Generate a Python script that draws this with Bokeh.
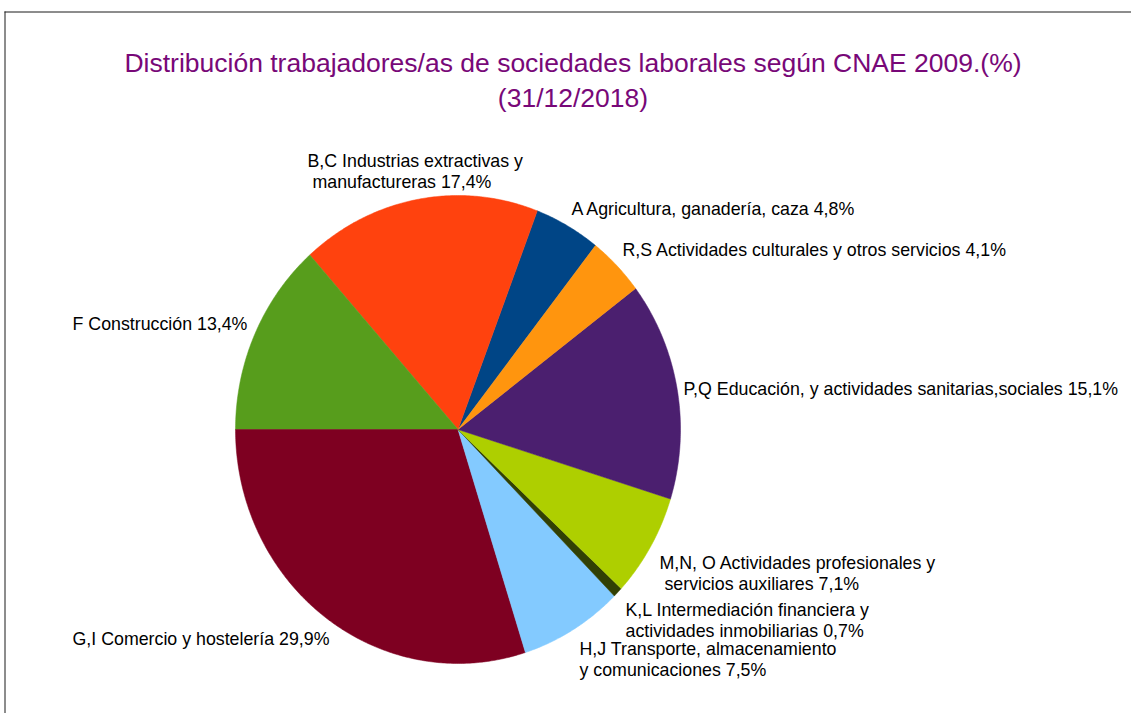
import math
from bokeh.plotting import figure
from bokeh.models import Range1d, ColumnDataSource
from bokeh.core.properties import value
from bokeh.embed import file_html
from bokeh.resources import INLINE

# ---------------- data ----------------
categories = [
    "A Agricultura, ganadería, caza",
    "B,C Industrias extractivas y manufactureras",
    "F Construcción",
    "G,I Comercio y hostelería",
    "H,J Transporte, almacenamiento y comunicaciones",
    "K,L Intermediación financiera y actividades inmobiliarias",
    "M,N, O Actividades profesionales y servicios auxiliares",
    "P,Q Educación, y actividades sanitarias,sociales",
    "R,S Actividades culturales y otros servicios",
]
percentages = [4.8, 17.4, 13.4, 29.9, 7.5, 0.7, 7.1, 15.1, 4.1]
colors = ["#004586", "#ff420e", "#579d1c", "#7e0021", "#83caff",
          "#314004", "#aecf00", "#4b1f6f", "#ff950e"]

# label text lines (as wrapped in the reference)
label_lines = [
    ["A Agricultura, ganadería, caza 4,8%"],
    ["B,C Industrias extractivas y", "\u00a0manufactureras 17,4%"],
    ["F Construcción 13,4%"],
    ["G,I Comercio y hostelería 29,9%"],
    ["H,J Transporte, almacenamiento", "y comunicaciones 7,5%"],
    ["K,L Intermediación financiera y", "actividades inmobiliarias 0,7%"],
    ["M,N, O Actividades profesionales y", "\u00a0servicios auxiliares 7,1%"],
    ["P,Q Educación, y actividades sanitarias,sociales 15,1%"],
    ["R,S Actividades culturales y otros servicios 4,1%"],
]

title_lines = ["Distribución trabajadores/as de sociedades laborales según CNAE 2009.(%)",
               "(31/12/2018)"]

# ---------------- layout (screen pixels) ----------------
W, H = 1131, 713
CX, CY = 457.5, 429.0      # pie centre
RX, RY = 222.5, 234.0      # pie radii
START_DEG = 51.84          # angle where the first slice starts (counter-clockwise)
# left x, y-centre of first line for each label
label_pos = [
    (571, 208), (307, 160), (72, 323), (72, 638), (579, 648),
    (625, 609), (659, 562), (683, 388), (622, 249),
]
LINE_H = 21

p = figure(width=W, height=H, output_backend="svg", toolbar_location=None,
           x_range=Range1d(0, W), y_range=Range1d(H, 0),
           min_border=0, outline_line_color=None)
p.xaxis.visible = False
p.yaxis.visible = False
p.grid.visible = False
p.background_fill_color = "white"
p.border_fill_color = "white"

# pie slices as polygons through the plot scales
total = sum(percentages)
xs, ys = [], []
a = math.radians(START_DEG)
for v in percentages:
    span = 2 * math.pi * v / total
    n = max(4, int(span / math.radians(0.5)))
    px, py = [CX], [CY]
    for i in range(n + 1):
        t = a + span * i / n
        px.append(CX + RX * math.cos(t))
        py.append(CY - RY * math.sin(t))
    xs.append(px)
    ys.append(py)
    a += span

src = ColumnDataSource(dict(xs=xs, ys=ys, color=colors, cat=categories))
p.patches("xs", "ys", source=src, fill_color="color", line_color="color", line_width=0.5)

# labels
tx, ty, tt = [], [], []
for (lx, ly), lines in zip(label_pos, label_lines):
    for k, s in enumerate(lines):
        tx.append(lx)
        ty.append(ly + k * LINE_H)
        tt.append(s)
p.text(tx, ty, text=tt, text_font=value("Liberation Sans"), text_font_size=value("17.8px"),
       text_baseline="middle", text_align="left", text_color="#000000")

# title
p.text([572.5, 572.5], [62, 97], text=title_lines, text_font=value("Liberation Sans"),
       text_font_size=value("26.5px"), text_baseline="middle", text_align="center",
       text_color="#780878")

# frame border (top and left edges visible in reference)
p.line([4, W], [11.5, 11.5], line_color="#1a1a1a", line_width=1)
p.line([4.5, 4.5], [11, H], line_color="#1a1a1a", line_width=1)

open("out.html", "w").write(file_html(p, INLINE))
